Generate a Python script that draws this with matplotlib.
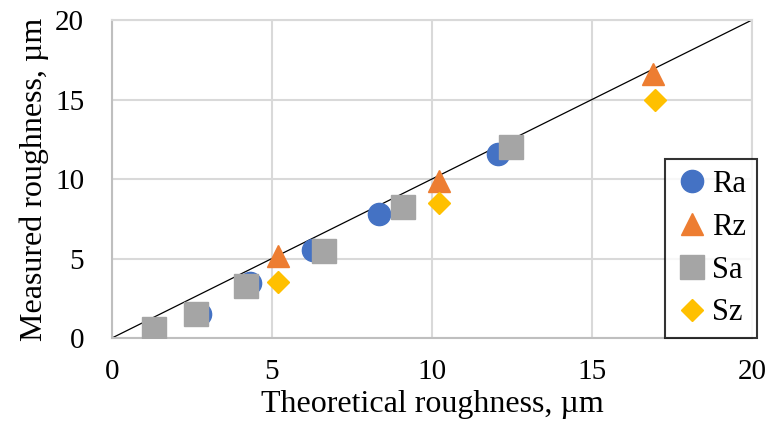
import matplotlib.pyplot as plt

# data
ra_x = [1.3, 2.75, 4.32, 6.29, 8.33, 12.07]
ra_y = [0.5, 1.5, 3.45, 5.55, 7.8, 11.6]
rz_x = [5.2, 10.23, 16.9]
rz_y = [5.15, 9.87, 16.6]
sa_x = [1.31, 2.63, 4.2, 6.63, 9.08, 12.46]
sa_y = [0.56, 1.5, 3.28, 5.5, 8.25, 12.03]
sz_x = [5.2, 10.23, 16.97]
sz_y = [3.5, 8.46, 15.0]

plt.rcParams['font.family'] = ['Liberation Serif', 'DejaVu Serif']

fig = plt.figure(figsize=(7.76, 4.38), dpi=100)
ax = fig.add_axes([0.1443, 0.2283, 0.8247, 0.7260])

grid_c = '#d9d9d9'
ax.set_xlim(0, 20)
ax.set_ylim(0, 20)
ax.set_xticks([0, 5, 10, 15, 20])
ax.set_yticks([0, 5, 10, 15, 20])
ax.grid(True, color=grid_c, linewidth=1.5)
ax.set_axisbelow(True)
for s in ax.spines.values():
    s.set_color(grid_c)
    s.set_linewidth(1.5)
ax.spines['left'].set_color('#bfbfbf')
ax.spines['bottom'].set_color('#bfbfbf')
ax.tick_params(axis='y', length=0, labelsize=21, pad=20)
ax.tick_params(axis='x', length=0, labelsize=21, pad=15)

ax.plot([0, 20], [0, 20], color='black', linewidth=0.9, zorder=1)

ax.plot(ra_x, ra_y, 'o', color='#4472c4', markersize=16, label='Ra', zorder=2)
ax.plot(rz_x, rz_y, '^', color='#ed7d31', markersize=16, label='Rz', zorder=3)
ax.plot(sa_x, sa_y, 's', color='#a5a5a5', markersize=17, label='Sa', zorder=4)
ax.plot(sz_x, sz_y, 'D', color='#ffc000', markersize=11, label='Sz', zorder=5)

ax.set_xlabel('Theoretical roughness, µm', fontsize=23, labelpad=4)
ax.set_ylabel('Measured roughness, µm', fontsize=23, labelpad=4)

leg = ax.legend(loc='lower right', bbox_to_anchor=(757 / 776, 1 - 338 / 438),
                bbox_transform=fig.transFigure, fontsize=22, frameon=True,
                fancybox=False, edgecolor='black', handletextpad=0.1,
                handlelength=1.1, borderpad=0.35, labelspacing=0.45,
                borderaxespad=0, markerscale=1.0)
leg.get_frame().set_linewidth(1.5)

fig.savefig('out.png', dpi=100)
